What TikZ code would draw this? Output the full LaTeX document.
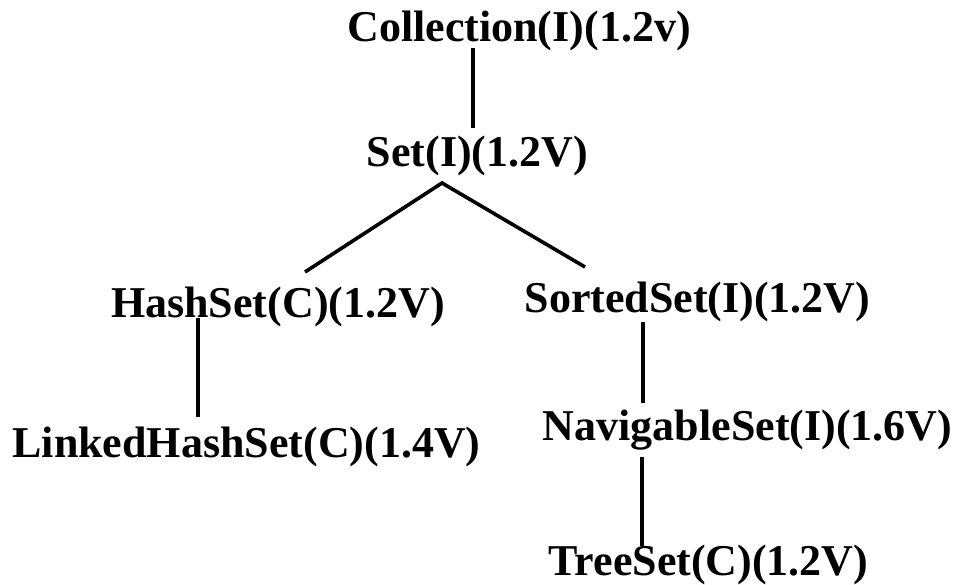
\documentclass[tikz,border=0pt]{standalone}
\usepackage{fontspec}
\setmainfont{Liberation Serif}
\usepackage{tikz}

\begin{document}
\begin{tikzpicture}[x=1pt,y=-1pt,>=stealth]
        \tikzstyle{cls}=[font=\bfseries\fontsize{44}{44}\selectfont,inner sep=0pt,text height=30pt,text depth=10pt]
        \tikzstyle{link}=[line width=3.6pt]
        \useasboundingbox (0,0) rectangle (955,585);
        \node[cls](coll) at (519,32){Collection(I)(1.2v)};
        \node[cls,below of=coll,node distance=125pt,xshift=-41.5pt](set){Set(I)(1.2V)};
        \node[cls,below of=set,node distance=150pt,xshift=-199.5pt](hs){HashSet(C)(1.2V)};
        \node[cls,below of=set,node distance=145pt,xshift=220pt](ss){SortedSet(I)(1.2V)};
        \node[cls,below of=hs,node distance=140pt,xshift=-31.5pt](lhs){LinkedHashSet(C)(1.4V)};
        \node[cls,below of=ss,node distance=128pt,xshift=50pt](nav){NavigableSet(I)(1.6V)};
        \node[cls,below of=nav,node distance=135pt,xshift=-39pt](ts){TreeSet(C)(1.2V)};
        % connectors
        \draw[link] ([xshift=-46pt,yshift=-6pt]coll.base) -- ([xshift=-4.5pt,yshift=39pt]set.base);
        \draw[link] ([xshift=27pt,yshift=45pt]hs.base) -- ([xshift=-35.5pt,yshift=-16pt]set.base)
            -- ([xshift=-112.5pt,yshift=45pt]ss.base);
        \draw[link] ([xshift=-80pt,yshift=-1pt]hs.base) -- ([xshift=-48.5pt,yshift=40pt]lhs.base);
        \draw[link] ([xshift=-54.5pt,yshift=-10pt]ss.base) -- ([xshift=-104.5pt,yshift=37pt]nav.base);
        \draw[link] ([xshift=-105.5pt,yshift=-17pt]nav.base) -- ([xshift=-66.5pt,yshift=29pt]ts.base);
\end{tikzpicture}
\end{document}
